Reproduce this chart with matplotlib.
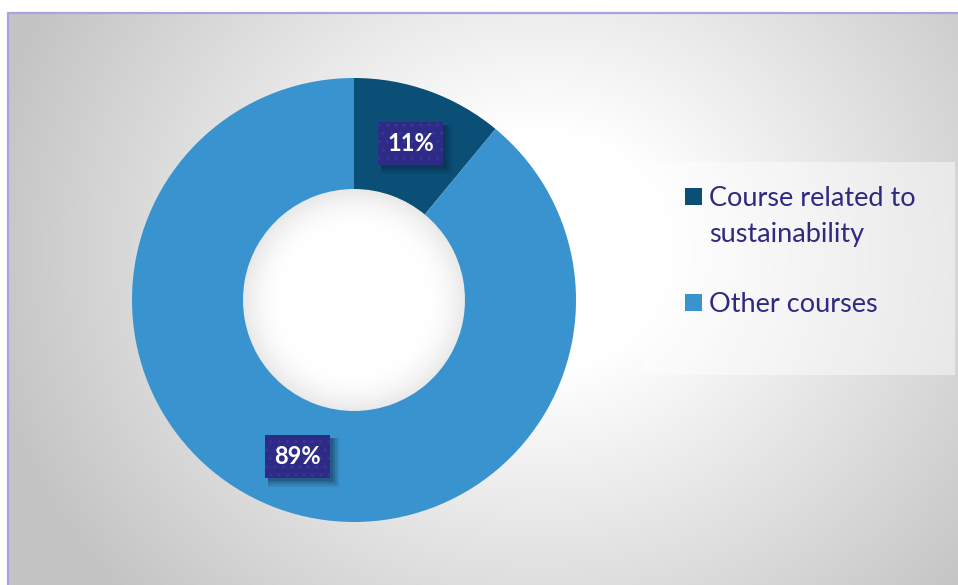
"""Donut chart: share of courses related to sustainability."""

import numpy as np
import matplotlib
matplotlib.use("Agg")
import matplotlib.pyplot as plt
from matplotlib.patches import Rectangle

labels = ["Course related to\nsustainability", "Other courses"]
values = [11, 89]
colors = ["#0B4E76", "#3893CF"]

W, H = 958, 585
DPI = 100
plt.rcParams["font.family"] = ["Lato", "DejaVu Sans"]

fig = plt.figure(figsize=(W / DPI, H / DPI), dpi=DPI)

cx, cy, r = 354, 300, 222
hole = 0.5

# background: radial grey gradient inside the chart frame
bg = fig.add_axes([0, 0, 1, 1], zorder=-10)
yy, xx = np.mgrid[0:H, 0:W]
dist = np.hypot(xx - 540, (yy - 250) * 1.1)
shade = np.clip((dist - 130) / 430, 0, 1)
grey = 1.0 - shade * (1.0 - 0.77)
# white hole with a soft inner shadow at its rim
d_hole = np.hypot(xx - cx, yy - cy)
inner = d_hole < r * hole + 2
rim = np.clip((d_hole - 70) / (r * hole - 70), 0, 1) ** 2
grey[inner] = (1.0 - 0.09 * rim)[inner]
img = np.dstack([grey, grey, grey])
img[:12, :, :] = 1.0
img[:, :8, :] = 1.0
bg.imshow(img, extent=(0, W, H, 0), interpolation="bilinear")
bg.set_xlim(0, W)
bg.set_ylim(H, 0)
bg.axis("off")
bg.plot([8.5, 8.5, W + 5], [H + 5, 12.5, 12.5], color="#A9A3E3", lw=1.6,
        solid_joinstyle="miter")

# donut
ax = fig.add_axes([(cx - r) / W, (H - cy - r) / H, 2 * r / W, 2 * r / H])
wedges, _, autotexts = ax.pie(
    values,
    colors=colors,
    startangle=90,
    counterclock=False,
    autopct="%d%%",
    pctdistance=0.75,
    wedgeprops=dict(width=1 - hole, edgecolor="none"),
)
ax.set_xlim(-1, 1)
ax.set_ylim(-1, 1)
ax.set_aspect("equal")

# label boxes (fixed pixel size) with a soft shadow
bw, bh = 65, 43
for t in autotexts:
    px, py = ax.transData.transform(t.get_position())
    t.set_visible(False)
    for k, a in enumerate([0.10, 0.12, 0.16, 0.20]):
        off = 6 - k
        grow = 3 - k
        fig.patches.append(Rectangle(
            ((px - bw / 2 + off - grow) / W, (py - bh / 2 - off - grow) / H),
            (bw + 2 * grow) / W, (bh + 2 * grow) / H,
            transform=fig.transFigure, fc="#0A2236", ec="none", alpha=a,
            zorder=3))
    fig.patches.append(Rectangle(
        ((px - bw / 2) / W, (py - bh / 2) / H), bw / W, bh / H,
        transform=fig.transFigure, fc="#2E2B87", ec="#36359A", lw=0,
        hatch="..", zorder=4))
    fig.text(px / W, py / H, t.get_text(), fontsize=17, fontweight="bold",
             color="white", ha="center", va="center", zorder=6)

# legend panel
fig.patches.append(Rectangle((642 / W, 1 - 375 / H), (955 - 642) / W,
                             (375 - 162) / H, transform=fig.transFigure,
                             fc="white", ec="none", alpha=0.45, zorder=1))
text_color = "#2E2A80"
rows = [206, 312]
line_gap = 36
for lab, col, base in zip(labels, colors, rows):
    fig.patches.append(Rectangle((685 / W, 1 - (base - 1) / H), 17 / W, 17 / H,
                                 transform=fig.transFigure, fc=col, ec="none",
                                 zorder=2))
    for i, line in enumerate(lab.split("\n")):
        fig.text(709 / W, 1 - (base + i * line_gap) / H, line, fontsize=19.5,
                 color=text_color, ha="left", va="baseline", zorder=3)

fig.savefig("out.png", dpi=DPI)
